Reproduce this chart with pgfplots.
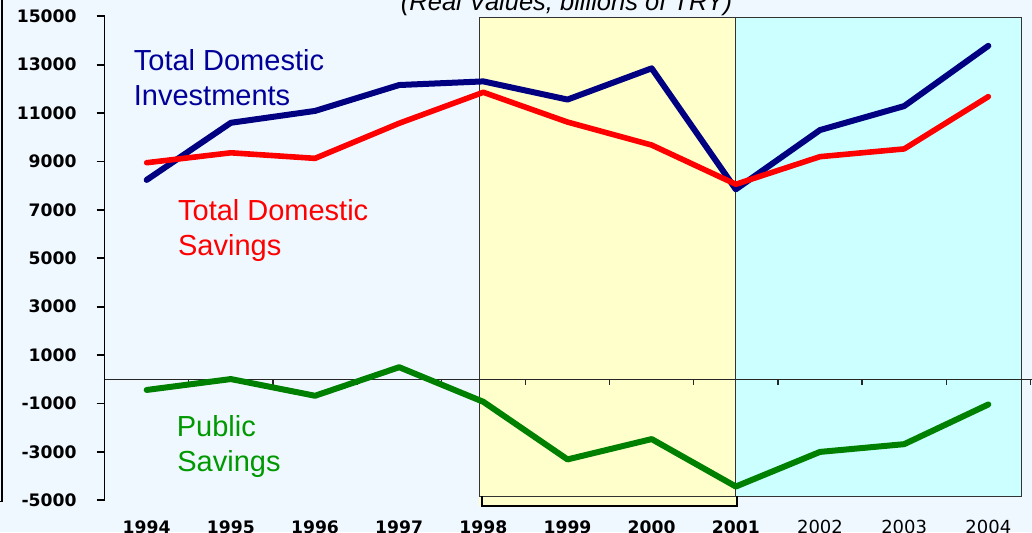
\documentclass[border=0pt]{standalone}
\usepackage{fontspec}
\setmainfont{Liberation Sans}
\newfontfamily\dejavu{DejaVu Sans}
\usepackage{pgfplots}
\pgfplotsset{compat=1.18}
\definecolor{bgblue}{HTML}{F0F8FF}
\definecolor{ybox}{HTML}{FFFFCC}
\definecolor{cbox}{HTML}{CCFFFF}
\definecolor{navyline}{HTML}{000080}
\definecolor{navytext}{HTML}{000099}
\definecolor{greenline}{HTML}{008000}
\definecolor{greentext}{HTML}{009900}
\begin{document}
\begin{tikzpicture}[x=0.5pt,y=0.5pt]
\path[use as bounding box] (0,0) rectangle (1032,532);
\clip (0,0) rectangle (1032,532);
\fill[bgblue] (0,0) rectangle (1032,532);
\draw[black, line width=0.75pt] (2,540) -- (2,30.5) -- (-4,30.5);
\begin{axis}[
  at={(52.3pt,15.85pt)}, anchor=south west,
  scale only axis, width=462.9pt, height=242pt,
  xmin=1993.5, xmax=2004.5, ymin=-5000, ymax=15000,
  clip=false,
  axis y line*=left, axis x line*=bottom,
  x axis line style={draw=none},
  y axis line style={line width=0.9pt, black},
  ytick={-5000,-3000,-1000,1000,3000,5000,7000,9000,11000,13000,15000},
  yticklabels={-5000,-3000,-1000,1000,3000,5000,7000,9000,11000,13000,15000},
  scaled y ticks=false,
  tick align=outside,
  ytick style={line width=0.9pt, black},
  major tick length=4pt,
  xtick={1994,1995,1996,1997,1998,1999,2000,2001,2002,2003,2004},
  xticklabels={\textbf{1994},\textbf{1995},\textbf{1996},\textbf{1997},\textbf{1998},\textbf{1999},\textbf{2000},\textbf{2001},{\fontsize{9}{10}\selectfont 2002},{\fontsize{9}{10}\selectfont 2003},{\fontsize{9}{10}\selectfont 2004}},
  xtick style={draw=none},
  yticklabel style={font=\dejavu\bfseries\fontsize{8.6}{10}\selectfont, anchor=east, inner sep=0pt, xshift=-9.8pt},
  xticklabel style={font=\dejavu\fontsize{8.6}{10}\selectfont, anchor=north, inner sep=0pt, yshift=-5.85pt},
]
% shaded periods
\addplot[draw=none, fill=ybox] coordinates {(1997.95,-5235) (2001,-5235) (2001,14958) (1997.95,14958)} -- cycle;
\addplot[draw=none, fill=cbox] coordinates {(2001,-4822) (2004.4,-4822) (2004.4,14958) (2001,14958)} -- cycle;
\addplot[draw=black!80, line width=0.5pt] coordinates {(1997.95,-4822) (2004.4,-4822) (2004.4,14958) (1997.95,14958)} -- cycle;
\addplot[draw=black!80, line width=0.5pt] coordinates {(2001,-4822) (2001,14958)};
\addplot[draw=black, line width=1pt] coordinates {(1997.98,-4822) (1997.98,-5235) (2001.01,-5235) (2001.01,-4822)};
% zero line and its ticks
\addplot[black!85, line width=0.6pt] coordinates {(1993.5,0) (2004.6,0)};
\addplot[ycomb, black!85, line width=0.6pt] coordinates {(1994.5,-230) (1995.5,-230) (1996.5,-230) (1997.5,-230) (1998.5,-230) (1999.5,-230) (2000.5,-230) (2001.5,-230) (2002.5,-230) (2003.5,-230) (2004.5,-230)};
% series
\addplot[navyline, line width=3pt, line join=round, line cap=round] coordinates {(1994,8240) (1995,10600) (1996,11090) (1997,12160) (1998,12310) (1999,11560) (2000,12850) (2001,7850) (2002,10300) (2003,11290) (2004,13780)};
\addplot[red, line width=2.8pt, line join=round, line cap=round] coordinates {(1994,8950) (1995,9360) (1996,9130) (1997,10580) (1998,11860) (1999,10630) (2000,9680) (2001,8060) (2002,9200) (2003,9520) (2004,11680)};
\addplot[greenline, line width=3pt, line join=round, line cap=round] coordinates {(1994,-440) (1995,10) (1996,-680) (1997,500) (1998,-930) (1999,-3310) (2000,-2470) (2001,-4430) (2002,-3000) (2003,-2680) (2004,-1040)};
\end{axis}
\node[anchor=base, inner sep=0pt, font=\itshape\fontsize{12.75}{15}\selectfont] at (566.5,522) {(Real Values, billions of TRY)};
\node[anchor=base west, inner sep=0pt, text=navytext, font=\fontsize{14.5}{17}\selectfont] at (133.5,462) {Total Domestic};
\node[anchor=base west, inner sep=0pt, text=navytext, font=\fontsize{14.5}{17}\selectfont] at (133.5,427) {Investments};
\node[anchor=base west, inner sep=0pt, text=red, font=\fontsize{14.5}{17}\selectfont] at (177.7,312) {Total Domestic};
\node[anchor=base west, inner sep=0pt, text=red, font=\fontsize{14.5}{17}\selectfont] at (177.7,277) {Savings};
\node[anchor=base west, inner sep=0pt, text=greentext, font=\fontsize{14.5}{17}\selectfont] at (176.5,95.3) {Public};
\node[anchor=base west, inner sep=0pt, text=greentext, font=\fontsize{14.5}{17}\selectfont] at (177,60.3) {Savings};
\end{tikzpicture}
\end{document}
